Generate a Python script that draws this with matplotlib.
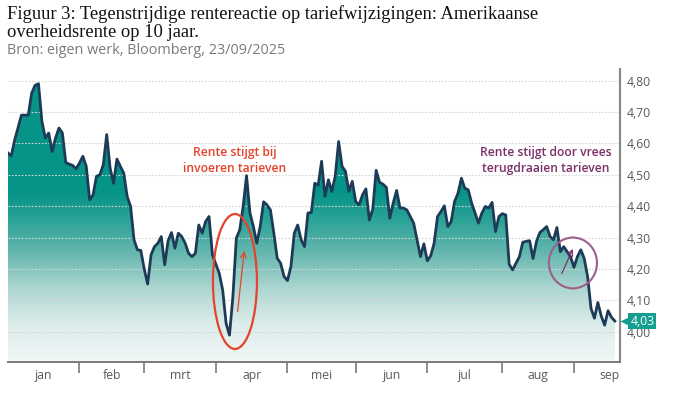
import numpy as np
import matplotlib
matplotlib.use("Agg")
import matplotlib.pyplot as plt
from matplotlib.patches import Ellipse
from matplotlib.colors import LinearSegmentedColormap
import matplotlib.transforms as mtrans

# ---------------- data ----------------
rates = [
    4.57, 4.56, 4.61, 4.65, 4.69, 4.69, 4.69, 4.76, 4.785, 4.79,
    4.67, 4.617, 4.633, 4.574, 4.617, 4.649, 4.633, 4.539, 4.534, 4.530,
    4.519, 4.537, 4.559, 4.527, 4.420, 4.436, 4.495, 4.500, 4.532, 4.628,
    4.521, 4.473, 4.550, 4.527, 4.505, 4.431, 4.399, 4.293, 4.261, 4.259,
    4.200, 4.152, 4.245, 4.271, 4.282, 4.303, 4.213, 4.290, 4.316, 4.266,
    4.314, 4.303, 4.282, 4.250, 4.239, 4.250, 4.340, 4.314, 4.351, 4.367,
    4.245, 4.215, 4.186, 4.133, 4.027, 3.989, 4.112, 4.298, 4.324, 4.399,
    4.497, 4.378, 4.335, 4.282, 4.335, 4.414, 4.404, 4.388, 4.314, 4.234,
    4.218, 4.176, 4.163, 4.207, 4.314, 4.340, 4.293, 4.271, 4.378, 4.380,
    4.473, 4.467, 4.543, 4.431, 4.484, 4.447, 4.495, 4.606, 4.527, 4.511,
    4.447, 4.479, 4.415, 4.404, 4.436, 4.455, 4.356, 4.390, 4.514, 4.476,
    4.470, 4.460, 4.362, 4.410, 4.450, 4.394, 4.394, 4.388, 4.367, 4.346,
    4.292, 4.239, 4.280, 4.226, 4.242, 4.282, 4.367, 4.383, 4.401, 4.335,
    4.351, 4.415, 4.441, 4.489, 4.457, 4.452, 4.410, 4.378, 4.346, 4.378,
    4.399, 4.394, 4.412, 4.319, 4.367, 4.376, 4.372, 4.215, 4.197, 4.218,
    4.239, 4.285, 4.288, 4.290, 4.233, 4.287, 4.316, 4.325, 4.335, 4.303,
    4.293, 4.332, 4.255, 4.271, 4.255, 4.239, 4.205, 4.239, 4.261, 4.234,
    4.176, 4.074, 4.043, 4.093, 4.050, 4.021, 4.067, 4.046, 4.034,
]
months = ["jan", "feb", "mrt", "apr", "mei", "jun", "jul", "aug", "sep"]
month_start = [0, 21, 40, 61, 82, 102, 123, 145, 166]   # trading-day index
month_end_last = 187
yticks = [4.00, 4.10, 4.20, 4.30, 4.40, 4.50, 4.60, 4.70, 4.80]

title = ("Figuur 3: Tegenstrijdige rentereactie op tariefwijzigingen: Amerikaanse\n"
         "overheidsrente op 10 jaar.")
subtitle = "Bron: eigen werk, Bloomberg, 23/09/2025"
note1 = "Rente stijgt bij\ninvoeren tarieven"
note2 = "Rente stijgt door vrees\nterugdraaien tarieven"

# ---------------- figure ----------------
W, H = 675, 399
fig = plt.figure(figsize=(W / 100, H / 100), dpi=100)
L, R, T, B = 7.8, 620, 69.3, 362
ax = fig.add_axes([L / W, 1 - B / H, (R - L) / W, (B - T) / H])

x = np.arange(len(rates))
y = np.array(rates)
ymin, ymax = 3.9035, 4.836
xmax = 179.5
ax.set_xlim(0, xmax)
ax.set_ylim(ymin, ymax)

# gradient fill
teal = "#069488"
cmap = LinearSegmentedColormap.from_list(
    "g", [(0.0, "#f2f7f7"), (0.13, "#dbecea"), (0.25, "#aed6d1"),
          (0.36, "#6cbab1"), (0.48, "#2ea398"), (0.58, teal), (1.0, teal)])
poly = ax.fill_between(x, y, ymin, color="none", lw=0, zorder=1)
grad = np.linspace(0, 1, 256).reshape(-1, 1)
im = ax.imshow(grad, extent=[0, xmax, ymin, ymax], origin="lower",
               cmap=cmap, aspect="auto", zorder=1, interpolation="bicubic")
path = poly.get_paths()[0]
im.set_clip_path(path, transform=ax.transData)

# grid lines
for v in yticks:
    ax.axhline(v, color="#d6d6d6", lw=0.8, ls=(0, (1.5, 1.5)), zorder=2)

ax.plot(x, y, color="#1d3b57", lw=2.0, zorder=4, solid_joinstyle="round")

# axes styling
for s in ["top", "left"]:
    ax.spines[s].set_visible(False)
ax.spines["right"].set_color("#8a8a8a")
ax.spines["right"].set_linewidth(1.6)
ax.spines["bottom"].set_color("#7a7a7a")
ax.spines["bottom"].set_linewidth(1.4)

ax.yaxis.tick_right()
ax.set_yticks(yticks)
ax.set_yticklabels([f"{v:.2f}".replace(".", ",") for v in yticks],
                   fontsize=8.8, color="#5a5a5a", family="Open Sans")
ax.tick_params(axis="y", length=0, pad=5)

ax.set_xticks(month_start[1:])
ax.set_xticklabels([])
ax.tick_params(axis="x", which="major", length=8, width=1.2, color="#7a7a7a")
ends = month_start[1:] + [month_end_last]
mids = [(a + b) / 2 for a, b in zip(month_start, ends)]
ax.set_xticks(mids, minor=True)
ax.set_xticklabels(months, minor=True, fontsize=8.8, color="#5a5a5a",
                   family="Open Sans")
ax.tick_params(axis="x", which="minor", length=0, pad=5)

# annotations
red = "#e5432c"
purple = "#7a2f69"
ax.text(66.6, 4.545, note1, ha="center", va="center", color=red,
        fontsize=8.7, fontweight="semibold", family="Open Sans", linespacing=1.25, zorder=6)
ax.add_patch(Ellipse((66.6, 4.16), 12.9, 0.43, fill=False, ec=red, lw=1.6, zorder=6))
ax.annotate("", xy=(69.4, 4.266), xytext=(67.3, 4.056),
            arrowprops=dict(arrowstyle="->", color=red, lw=0.9), zorder=6)

ax.text(157.8, 4.545, note2, ha="center", va="center", color=purple,
        fontsize=8.7, fontweight="semibold", family="Open Sans", linespacing=1.25, zorder=6)
ax.add_patch(Ellipse((165.7, 4.219), 14.1, 0.162, fill=False, ec="#9c5f8a", lw=1.5, zorder=6))
ax.annotate("", xy=(166.0, 4.272), xytext=(162.1, 4.177),
            arrowprops=dict(arrowstyle="->", color=purple, lw=0.9), zorder=6)

# last value label
last = rates[-1]
tr = mtrans.blended_transform_factory(ax.transAxes, ax.transData)
ax.text(1.017, last, f"{last:.2f}".replace(".", ","), transform=tr,
        ha="left", va="center", color="white", fontsize=8.8, family="Open Sans",
        bbox=dict(boxstyle="square,pad=0.16", fc="#139e90", ec="none"),
        zorder=10, clip_on=False)
ax.plot([1.006], [last], transform=tr, marker="<", ms=6, color="#139e90",
        clip_on=False, zorder=9, mec="none")

# titles
fig.text(7 / W, 1 - 5 / H, title, ha="left", va="top", fontsize=13.3,
         family="Liberation Serif", color="#111111", linespacing=1.08)
fig.text(7 / W, 1 - 51 / H, subtitle, ha="left", va="center", fontsize=10.4,
         family="Open Sans", color="#7a7a7a")

fig.savefig("out.png", dpi=100)
